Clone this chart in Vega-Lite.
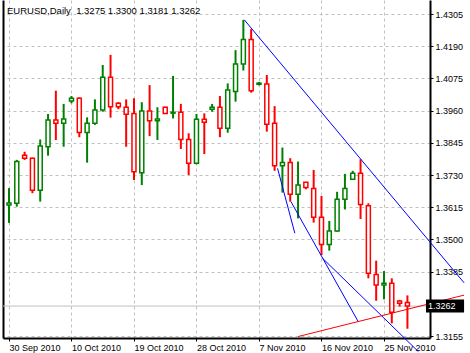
{
  "$schema": "https://vega.github.io/schema/vega-lite/v6.json",
  "width": 427,
  "height": 338,
  "autosize": "none",
  "padding": {"left": 3, "top": 0, "right": 40, "bottom": 15},
  "background": "white",
  "config": {"view": {"stroke": null}, "font": "Liberation Sans"},
  "title": {"text": "EURUSD,Daily\u00a0 1.3275 1.3300 1.3181 1.3262", "anchor": "start", "frame": "group", "orient": "top", "offset": -14, "dx": 4, "dy": 9, "baseline": "alphabetic", "fontSize": 9.5, "fontWeight": "normal", "font": "Liberation Sans", "color": "black"},
  "datasets": {
    "candles": [
      {"i": 0, "date": "2010-09-30", "open": 1.3623, "high": 1.3683, "low": 1.3559, "close": 1.3630},
      {"i": 1, "date": "2010-10-01", "open": 1.3629, "high": 1.3784, "low": 1.3617, "close": 1.3778},
      {"i": 2, "date": "2010-10-03", "open": 1.3801, "high": 1.3813, "low": 1.3784, "close": 1.3790},
      {"i": 3, "date": "2010-10-04", "open": 1.3790, "high": 1.3792, "low": 1.3665, "close": 1.3676},
      {"i": 4, "date": "2010-10-05", "open": 1.3676, "high": 1.3857, "low": 1.3635, "close": 1.3834},
      {"i": 5, "date": "2010-10-06", "open": 1.3831, "high": 1.3948, "low": 1.3799, "close": 1.3926},
      {"i": 6, "date": "2010-10-07", "open": 1.3926, "high": 1.4031, "low": 1.3855, "close": 1.3915},
      {"i": 7, "date": "2010-10-08", "open": 1.3915, "high": 1.3984, "low": 1.3831, "close": 1.3930},
      {"i": 8, "date": "2010-10-10", "open": 1.3994, "high": 1.4012, "low": 1.3986, "close": 1.4004},
      {"i": 9, "date": "2010-10-11", "open": 1.4004, "high": 1.4007, "low": 1.3865, "close": 1.3882},
      {"i": 10, "date": "2010-10-12", "open": 1.3882, "high": 1.3936, "low": 1.3774, "close": 1.3915},
      {"i": 11, "date": "2010-10-13", "open": 1.3915, "high": 1.4000, "low": 1.3909, "close": 1.3962},
      {"i": 12, "date": "2010-10-14", "open": 1.3962, "high": 1.4123, "low": 1.3956, "close": 1.4079},
      {"i": 13, "date": "2010-10-15", "open": 1.4079, "high": 1.4159, "low": 1.3935, "close": 1.3974},
      {"i": 14, "date": "2010-10-17", "open": 1.3986, "high": 1.3990, "low": 1.3965, "close": 1.3974},
      {"i": 15, "date": "2010-10-18", "open": 1.3972, "high": 1.4000, "low": 1.3831, "close": 1.3947},
      {"i": 16, "date": "2010-10-19", "open": 1.3950, "high": 1.4004, "low": 1.3712, "close": 1.3742},
      {"i": 17, "date": "2010-10-20", "open": 1.3738, "high": 1.3990, "low": 1.3694, "close": 1.3959},
      {"i": 18, "date": "2010-10-21", "open": 1.3959, "high": 1.4051, "low": 1.3869, "close": 1.3924},
      {"i": 19, "date": "2010-10-22", "open": 1.3924, "high": 1.3972, "low": 1.3855, "close": 1.3930},
      {"i": 20, "date": "2010-10-24", "open": 1.3972, "high": 1.3974, "low": 1.3948, "close": 1.3950},
      {"i": 21, "date": "2010-10-25", "open": 1.3951, "high": 1.4084, "low": 1.3932, "close": 1.3954},
      {"i": 22, "date": "2010-10-26", "open": 1.3954, "high": 1.3984, "low": 1.3823, "close": 1.3857},
      {"i": 23, "date": "2010-10-27", "open": 1.3857, "high": 1.3879, "low": 1.3730, "close": 1.3772},
      {"i": 24, "date": "2010-10-28", "open": 1.3772, "high": 1.3948, "low": 1.3768, "close": 1.3929},
      {"i": 25, "date": "2010-10-29", "open": 1.3929, "high": 1.3950, "low": 1.3805, "close": 1.3918},
      {"i": 26, "date": "2010-10-31", "open": 1.3965, "high": 1.3984, "low": 1.3956, "close": 1.3972},
      {"i": 27, "date": "2010-11-01", "open": 1.3972, "high": 1.4012, "low": 1.3865, "close": 1.3897},
      {"i": 28, "date": "2010-11-02", "open": 1.3897, "high": 1.4057, "low": 1.3881, "close": 1.4034},
      {"i": 29, "date": "2010-11-03", "open": 1.4028, "high": 1.4176, "low": 1.3992, "close": 1.4126},
      {"i": 30, "date": "2010-11-04", "open": 1.4126, "high": 1.4284, "low": 1.4103, "close": 1.4214},
      {"i": 31, "date": "2010-11-05", "open": 1.4214, "high": 1.4251, "low": 1.4024, "close": 1.4031},
      {"i": 32, "date": "2010-11-07", "open": 1.4054, "high": 1.4062, "low": 1.4050, "close": 1.4058},
      {"i": 33, "date": "2010-11-08", "open": 1.4055, "high": 1.4087, "low": 1.3885, "close": 1.3911},
      {"i": 34, "date": "2010-11-09", "open": 1.3915, "high": 1.3976, "low": 1.3745, "close": 1.3763},
      {"i": 35, "date": "2010-11-10", "open": 1.3763, "high": 1.3828, "low": 1.3667, "close": 1.3775},
      {"i": 36, "date": "2010-11-11", "open": 1.3775, "high": 1.3790, "low": 1.3635, "close": 1.3661},
      {"i": 37, "date": "2010-11-12", "open": 1.3661, "high": 1.3778, "low": 1.3575, "close": 1.3694},
      {"i": 38, "date": "2010-11-14", "open": 1.3704, "high": 1.3704, "low": 1.3679, "close": 1.3685},
      {"i": 39, "date": "2010-11-15", "open": 1.3682, "high": 1.3748, "low": 1.3560, "close": 1.3579},
      {"i": 40, "date": "2010-11-16", "open": 1.3579, "high": 1.3655, "low": 1.3444, "close": 1.3482},
      {"i": 41, "date": "2010-11-17", "open": 1.3482, "high": 1.3566, "low": 1.3460, "close": 1.3530},
      {"i": 42, "date": "2010-11-18", "open": 1.3530, "high": 1.3670, "low": 1.3528, "close": 1.3643},
      {"i": 43, "date": "2010-11-19", "open": 1.3643, "high": 1.3734, "low": 1.3607, "close": 1.3682},
      {"i": 44, "date": "2010-11-21", "open": 1.3715, "high": 1.3745, "low": 1.3712, "close": 1.3736},
      {"i": 45, "date": "2010-11-22", "open": 1.3736, "high": 1.3786, "low": 1.3573, "close": 1.3625},
      {"i": 46, "date": "2010-11-23", "open": 1.3620, "high": 1.3629, "low": 1.3361, "close": 1.3379},
      {"i": 47, "date": "2010-11-24", "open": 1.3375, "high": 1.3424, "low": 1.3281, "close": 1.3337},
      {"i": 48, "date": "2010-11-25", "open": 1.3337, "high": 1.3387, "low": 1.3286, "close": 1.3343},
      {"i": 49, "date": "2010-11-26", "open": 1.3343, "high": 1.3361, "low": 1.3200, "close": 1.3240},
      {"i": 50, "date": "2010-11-28", "open": 1.3280, "high": 1.3284, "low": 1.3260, "close": 1.3272},
      {"i": 51, "date": "2010-11-29", "open": 1.3275, "high": 1.3300, "low": 1.3181, "close": 1.3262}
    ],
    "blue": [
      {"id": "L1", "i": 30.125, "price": 1.4284},
      {"id": "L1", "i": 58.25, "price": 1.3345},
      {"id": "L2", "i": 34.375, "price": 1.3754},
      {"id": "L2", "i": 36.59, "price": 1.3522},
      {"id": "L3", "i": 36.09, "price": 1.3635},
      {"id": "L3", "i": 44.71, "price": 1.3206},
      {"id": "L4", "i": 40.125, "price": 1.3433},
      {"id": "L4", "i": 52.41, "price": 1.3099}
    ],
    "red": [
      {"id": "R1", "i": 37, "price": 1.3153},
      {"id": "R1", "i": 58.25, "price": 1.3301}
    ],
    "bid": [{"price": 1.3262, "label": "1.3262"}]
  },
  "resolve": {"axis": {"y": "independent"}},
  "layer": [
    {
      "data": {"name": "bid"},
      "mark": {"type": "rule", "color": "#c0c0c0", "strokeWidth": 1},
      "encoding": {
        "y": {"field": "price", "type": "quantitative", "axis": null, "scale": {"domain": [1.31479, 1.4355], "nice": false, "zero": false}}
      }
    },
    {
      "data": {"name": "candles"},
      "mark": {"type": "rule", "strokeWidth": 2},
      "encoding": {
        "x": {"field": "i", "type": "quantitative",
          "scale": {"domain": [-0.125, 53.25], "nice": false, "zero": false},
          "axis": {
            "values": [0,4,8,12,16,20,24,28,32,36,40,44,48,52],
            "title": null, "grid": true, "gridColor": "#c0c0c0", "gridDash": [3,3], "gridWidth": 1,
            "labelExpr": "datum.value == 0 ? '30 Sep 2010' : datum.value == 8 ? '10 Oct 2010' : datum.value == 16 ? '19 Oct 2010' : datum.value == 24 ? '28 Oct 2010' : datum.value == 32 ? '7 Nov 2010' : datum.value == 40 ? '16 Nov 2010' : datum.value == 48 ? '25 Nov 2010' : ''",
            "labelAlign": "left", "labelFont": "Liberation Sans", "labelFontSize": 9, "labelColor": "black",
            "labelPadding": 2, "labelOverlap": false, "labelFlush": false, "labelBound": false,
            "tickColor": {"condition": {"test": "datum.value % 8 == 0", "value": "black"}, "value": "transparent"},
            "tickSize": 3, "tickWidth": 1, "domainColor": "black", "domainWidth": 2
          }
        },
        "y": {"field": "low", "type": "quantitative",
          "scale": {"domain": [1.31479, 1.4355], "nice": false, "zero": false},
          "axis": {
            "orient": "right",
            "values": [1.4305, 1.419, 1.4075, 1.396, 1.3845, 1.373, 1.3615, 1.35, 1.3385, 1.3155],
            "format": ".4f", "title": null, "grid": true, "gridColor": "#c0c0c0", "gridDash": [3,3], "gridWidth": 1,
            "labelFont": "Liberation Sans", "labelFontSize": 9, "labelColor": "black", "labelPadding": 2,
            "labelOverlap": false, "labelFlush": false, "labelBound": false,
            "tickColor": "black", "tickSize": 3, "domainColor": "black", "domainWidth": 2
          }
        },
        "y2": {"field": "high"},
        "color": {"condition": {"test": "datum.close >= datum.open", "value": "#008000"}, "value": "#ff0000"}
      }
    },
    {
      "data": {"name": "candles"},
      "mark": {"type": "bar", "width": 4, "fill": "white", "strokeWidth": 1.5},
      "encoding": {
        "x": {"field": "i", "type": "quantitative"},
        "y": {"field": "open", "type": "quantitative",
          "axis": {"orient": "left", "labels": false, "ticks": false, "grid": false, "title": null, "domainColor": "black", "domainWidth": 2}},
        "y2": {"field": "close"},
        "stroke": {"condition": {"test": "datum.close >= datum.open", "value": "#008000"}, "value": "#ff0000"}
      }
    },
    {
      "data": {"name": "blue"},
      "mark": {"type": "line", "color": "#0000ff", "strokeWidth": 1, "clip": false},
      "encoding": {
        "x": {"field": "i", "type": "quantitative"},
        "y": {"field": "price", "type": "quantitative", "axis": null},
        "detail": {"field": "id"}
      }
    },
    {
      "data": {"name": "red"},
      "mark": {"type": "line", "color": "#ff0000", "strokeWidth": 1, "clip": false},
      "encoding": {
        "x": {"field": "i", "type": "quantitative"},
        "y": {"field": "price", "type": "quantitative", "axis": null},
        "detail": {"field": "id"}
      }
    },
    {
      "data": {"name": "bid"},
      "mark": {"type": "rect", "color": "black", "height": 13, "clip": false},
      "encoding": {
        "x": {"datum": 53.375, "type": "quantitative"},
        "x2": {"datum": 58.25},
        "y": {"field": "price", "type": "quantitative", "axis": null}
      }
    },
    {
      "data": {"name": "bid"},
      "mark": {"type": "text", "color": "white", "align": "left", "baseline": "middle", "font": "Liberation Sans", "fontSize": 9, "clip": false, "dx": 2},
      "encoding": {
        "x": {"datum": 53.375, "type": "quantitative"},
        "y": {"field": "price", "type": "quantitative", "axis": null},
        "text": {"field": "label"}
      }
    }
  ]
}
